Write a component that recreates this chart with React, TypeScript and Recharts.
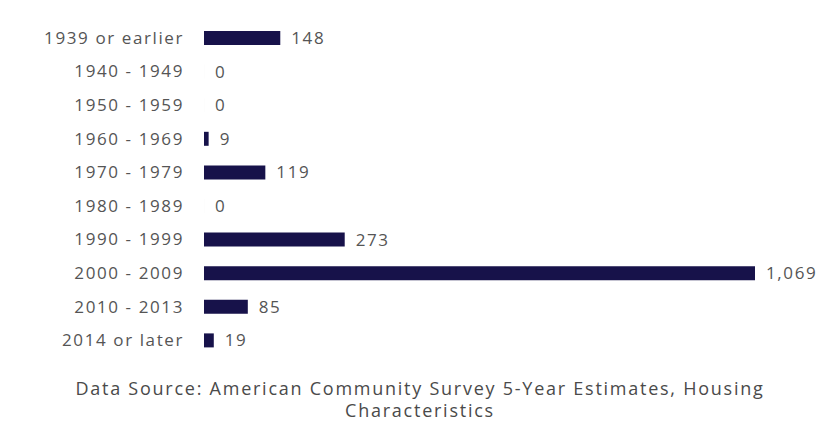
import React from "react";
import { BarChart, Bar, XAxis, YAxis, LabelList } from "recharts";

const periods = [
  "1939 or earlier",
  "1940 - 1949",
  "1950 - 1959",
  "1960 - 1969",
  "1970 - 1979",
  "1980 - 1989",
  "1990 - 1999",
  "2000 - 2009",
  "2010 - 2013",
  "2014 or later",
];
const units = [148, 0, 0, 9, 119, 0, 273, 1069, 85, 19];
const source = "Data Source: American Community Survey 5-Year Estimates, Housing Characteristics";

const fmt = (v: any) => Number(v).toLocaleString("en-US");

export default function App() {
  const data = periods.map((name, i) => ({ name, units: units[i] }));
  const font = "'Open Sans', sans-serif";
  const txt = { fill: "#555", fontSize: 17, fontFamily: font, letterSpacing: 1.6 };
  return (
    <div style={{ width: 818, fontFamily: font }}>
      <BarChart
        width={818}
        height={360}
        layout="vertical"
        data={data}
        margin={{ top: 13, right: 71, left: 0, bottom: 11 }}
      >
        <XAxis type="number" domain={[0, 1069]} hide />
        <YAxis
          type="category"
          dataKey="name"
          width={196}
          axisLine={false}
          tickLine={false}
          tickSize={0}
          tickMargin={20}
          tick={txt}
        />
        <Bar
          dataKey="units"
          fill="#17124a"
          barSize={14}
          minPointSize={(v: any) => (v === 0 ? 0.01 : 0)}
          isAnimationActive={false}
        >
          <LabelList dataKey="units" position="right" offset={11} formatter={fmt} style={txt} />
        </Bar>
      </BarChart>
      <div
        style={{
          width: 700,
          marginLeft: 62,
          textAlign: "center",
          color: "#4a4a4a",
          fontSize: 18,
          letterSpacing: 1.75,
          lineHeight: "22px",
          marginTop: 9,
        }}
      >
        {source}
      </div>
    </div>
  );
}
